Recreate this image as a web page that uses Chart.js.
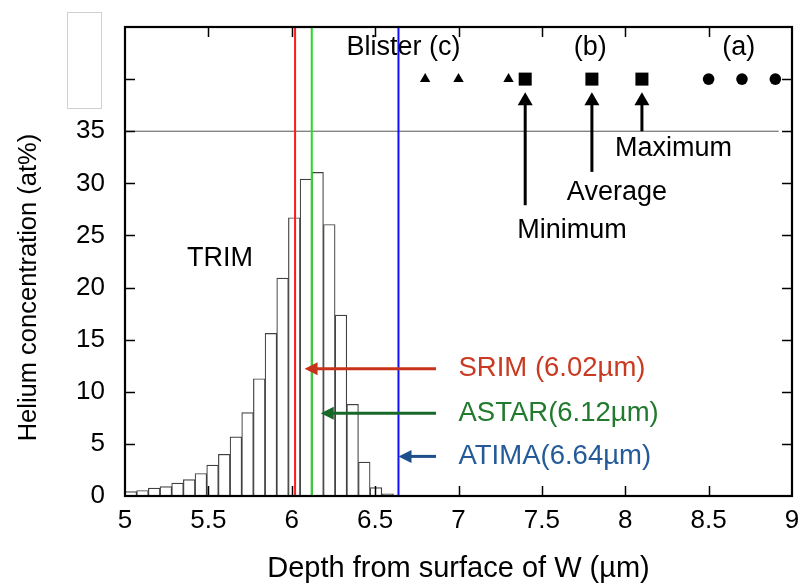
<!DOCTYPE html>
<html>
<head>
<meta charset="utf-8">
<script src="https://cdn.jsdelivr.net/npm/chart.js@4.4.1/dist/chart.umd.min.js"></script>
<style>
  html, body { margin: 0; padding: 0; background: #fff; }
  #wrap { width: 808px; height: 586px; }
</style>
</head>
<body>
<div id="wrap"><canvas id="c" width="808" height="586"></canvas></div>
<script>
// TRIM helium depth distribution in W, 0.07 µm bins (bin centres, µm)
const binCenters = [5.035, 5.105, 5.175, 5.245, 5.315, 5.385, 5.455, 5.525, 5.595, 5.665,
                    5.735, 5.805, 5.875, 5.945, 6.015, 6.085, 6.155, 6.225, 6.295, 6.365,
                    6.435, 6.505, 6.575];
// Helium concentration per bin (at%)
const heliumAt = [0.43, 0.53, 0.75, 0.91, 1.23, 1.58, 2.16, 2.96, 4.0, 5.67,
                  8.0, 11.25, 15.6, 20.9, 26.7, 30.4, 31.05, 26.05, 17.35, 8.8,
                  3.25, 0.8, 0.2];

// Projected ranges given by the stopping codes (µm)
const rangeCodes = ['SRIM', 'ASTAR', 'ATIMA'];
const rangeDepths = [6.02, 6.12, 6.64];

// Blister depths (µm): minimum, average, maximum for each sample
const blisterC = [6.8, 7.0, 7.3];
const blisterB = [7.4, 7.8, 8.1];
const blisterA = [8.5, 8.7, 8.9];
const blisterLevel = 40;
const refLevel = 35;

// Axis ticks
const xTicks = [5, 5.5, 6, 6.5, 7, 7.5, 8, 8.5, 9];
const yTicks = [0, 5, 10, 15, 20, 25, 30, 35];
const yInnerTicks = [5, 10, 15, 20, 25, 30, 35, 40];
const xInnerTicks = [5.5, 6, 6.5, 7, 7.5, 8, 8.5];

const FONT = "'Liberation Sans', Arial, Helvetica, sans-serif";

const lineColors = ['#ff1a1a', '#22dd22', '#1010ff'];
const arrowColors = ['#c8321a', '#17692a', '#1d4f8c'];
const labelColors = ['#c83a22', '#227a2e', '#245a98'];

// Annotation placement in data units
const codeArrowTail = 6.865;
const codeArrowTips = [6.077, 6.174, 6.64];
const codeArrowLevels = [12.2, 7.95, 3.8];
const codeLabelX = 7.0;

const statNames = ['Minimum', 'Average', 'Maximum'];
const statTails = [27.9, 31.1, 35.0];
const statTip = 38.75;
const statLabelPos = [[7.68, 25.5], [7.95, 29.15], [8.29, 33.3]];

const groupLabels = [['Blister (c)', 6.67], ['(b)', 7.79], ['(a)', 8.68]];
const groupLabelLevel = 43.0;

const pts = (xs, y) => xs.map(x => ({ x, y }));

const datasets = [
  {
    type: 'bar',
    data: binCenters.map((x, i) => ({ x, y: heliumAt[i] })),
    backgroundColor: '#ffffff',
    borderColor: '#404040',
    borderWidth: 1.2,
    borderSkipped: false,
    barPercentage: 1,
    categoryPercentage: 1,
    grouped: false,
    order: 5
  },
  {
    type: 'line',
    data: [{ x: 5, y: refLevel }, { x: 8.92, y: refLevel }],
    borderColor: '#555555',
    borderWidth: 1,
    pointRadius: 0,
    order: 4
  },
  ...rangeDepths.map((d, i) => ({
    type: 'line',
    data: [{ x: d, y: 0 }, { x: d, y: 45 }],
    borderColor: lineColors[i],
    borderWidth: 2,
    pointRadius: 0,
    order: 3
  })),
  {
    type: 'line', data: pts(blisterC, blisterLevel), showLine: false,
    pointStyle: 'triangle', pointRadius: 6, pointBackgroundColor: '#000', pointBorderColor: '#000',
    pointBorderWidth: 0, order: 1
  },
  {
    type: 'line', data: pts(blisterB, blisterLevel), showLine: false,
    pointStyle: 'rect', pointRadius: 9.2, pointBackgroundColor: '#000', pointBorderColor: '#000',
    pointBorderWidth: 0, order: 1
  },
  {
    type: 'line', data: pts(blisterA, blisterLevel), showLine: false, clip: false,
    pointStyle: 'circle', pointRadius: 5.8, pointBackgroundColor: '#000', pointBorderColor: '#000',
    pointBorderWidth: 0, order: 1
  }
];

function arrowHead(ctx, x0, y0, x1, y1, len, half) {
  const a = Math.atan2(y1 - y0, x1 - x0);
  ctx.beginPath();
  ctx.moveTo(x1, y1);
  ctx.lineTo(x1 - len * Math.cos(a) + half * Math.sin(a), y1 - len * Math.sin(a) - half * Math.cos(a));
  ctx.lineTo(x1 - len * Math.cos(a) - half * Math.sin(a), y1 - len * Math.sin(a) + half * Math.cos(a));
  ctx.closePath();
  ctx.fill();
}

function drawArrow(ctx, x0, y0, x1, y1, color, width, len, half) {
  const a = Math.atan2(y1 - y0, x1 - x0);
  ctx.save();
  ctx.strokeStyle = color;
  ctx.fillStyle = color;
  ctx.lineWidth = width;
  ctx.beginPath();
  ctx.moveTo(x0, y0);
  ctx.lineTo(x1 - (len - 1) * Math.cos(a), y1 - (len - 1) * Math.sin(a));
  ctx.stroke();
  arrowHead(ctx, x0, y0, x1, y1, len, half);
  ctx.restore();
}

const decorations = {
  id: 'decorations',
  afterDatasetsDraw(chart) {
    const { ctx, chartArea: a, scales: { x, y } } = chart;
    ctx.save();

    // inward tick marks on all four sides
    ctx.strokeStyle = '#000';
    ctx.lineWidth = 1.5;
    ctx.beginPath();
    xInnerTicks.forEach(v => {
      const px = Math.round(x.getPixelForValue(v)) + 0.5;
      ctx.moveTo(px, a.bottom); ctx.lineTo(px, a.bottom - 10);
      ctx.moveTo(px, a.top); ctx.lineTo(px, a.top + 10);
    });
    yInnerTicks.forEach(v => {
      const py = Math.round(y.getPixelForValue(v)) + 0.5;
      ctx.moveTo(a.left, py); ctx.lineTo(a.left + 10, py);
      ctx.moveTo(a.right, py); ctx.lineTo(a.right - 10, py);
    });
    ctx.stroke();

    // frame
    ctx.lineWidth = 2.2;
    ctx.strokeRect(a.left, a.top, a.right - a.left, a.bottom - a.top);

    // texts
    ctx.textBaseline = 'middle';
    ctx.fillStyle = '#000';
    ctx.font = `27px ${FONT}`;
    ctx.textAlign = 'center';
    groupLabels.forEach(([t, v]) => ctx.fillText(t, x.getPixelForValue(v), y.getPixelForValue(groupLabelLevel)));
    ctx.fillText('TRIM', x.getPixelForValue(5.57), y.getPixelForValue(22.8));

    // minimum / average / maximum arrows
    blisterB.forEach((v, i) => {
      const px = x.getPixelForValue(v);
      drawArrow(ctx, px, y.getPixelForValue(statTails[i]), px, y.getPixelForValue(statTip), '#000', 3, 13, 7.5);
      ctx.fillStyle = '#000';
      ctx.fillText(statNames[i], x.getPixelForValue(statLabelPos[i][0]), y.getPixelForValue(statLabelPos[i][1]));
    });

    // stopping-code arrows and labels
    ctx.textAlign = 'left';
    ctx.font = `27.5px ${FONT}`;
    rangeCodes.forEach((name, i) => {
      const py = y.getPixelForValue(codeArrowLevels[i]);
      drawArrow(ctx, x.getPixelForValue(codeArrowTail), py, x.getPixelForValue(codeArrowTips[i]), py,
                arrowColors[i], 3, 13, 6.5);
      ctx.fillStyle = labelColors[i];
      const sep = i === 0 ? ' ' : '';
      ctx.fillText(`${name}${sep}(${rangeDepths[i].toFixed(2)}µm)`, x.getPixelForValue(codeLabelX), py);
    });

    // y axis title
    ctx.save();
    ctx.fillStyle = '#000';
    ctx.font = `25.5px ${FONT}`;
    ctx.textAlign = 'center';
    ctx.translate(a.left - 96, y.getPixelForValue(20));
    ctx.rotate(-Math.PI / 2);
    ctx.fillText('Helium concentration (at%)', 0, 0);
    ctx.restore();

    ctx.restore();
  },
  afterDraw(chart) {
    const { ctx, chartArea: a } = chart;
    // blank panel over the upper part of the value axis
    ctx.save();
    ctx.fillStyle = '#ffffff';
    ctx.strokeStyle = '#d0d0d0';
    ctx.lineWidth = 1;
    ctx.fillRect(a.left - 58, 12, 34, 96);
    ctx.strokeRect(a.left - 57.5, 12.5, 34, 96);
    ctx.restore();
  }
};

new Chart(document.getElementById('c'), {
  type: 'bar',
  data: { datasets },
  options: {
    responsive: false,
    animation: false,
    devicePixelRatio: 1,
    layout: { padding: { left: 10, top: 27, right: 16, bottom: 0 } },
    plugins: { legend: { display: false }, tooltip: { enabled: false } },
    scales: {
      x: {
        type: 'linear', min: 5, max: 9, offset: false,
        grid: { display: false, drawTicks: false },
        border: { display: false },
        afterBuildTicks: s => { s.ticks = xTicks.map(v => ({ value: v })); },
        afterFit: s => { s.height = 90; s.paddingLeft = 0; s.paddingRight = 0; },
        ticks: {
          font: { family: FONT, size: 26 }, color: '#000', padding: 9,
          maxRotation: 0, autoSkip: false, callback: v => String(v)
        },
        title: {
          display: true, text: 'Depth from surface of W (µm)', color: '#000',
          font: { family: FONT, size: 29 }, padding: { top: 0, bottom: 0 }
        }
      },
      y: {
        type: 'linear', min: 0, max: 45,
        grid: { display: false, drawTicks: false },
        border: { display: false },
        afterBuildTicks: s => { s.ticks = yTicks.map(v => ({ value: v })); },
        afterFit: s => { s.width = 115; s.paddingTop = 0; s.paddingBottom = 0; },
        ticks: { font: { family: FONT, size: 26 }, color: '#000', padding: 20, callback: v => String(v) }
      }
    }
  },
  plugins: [decorations]
});
</script>
</body>
</html>
